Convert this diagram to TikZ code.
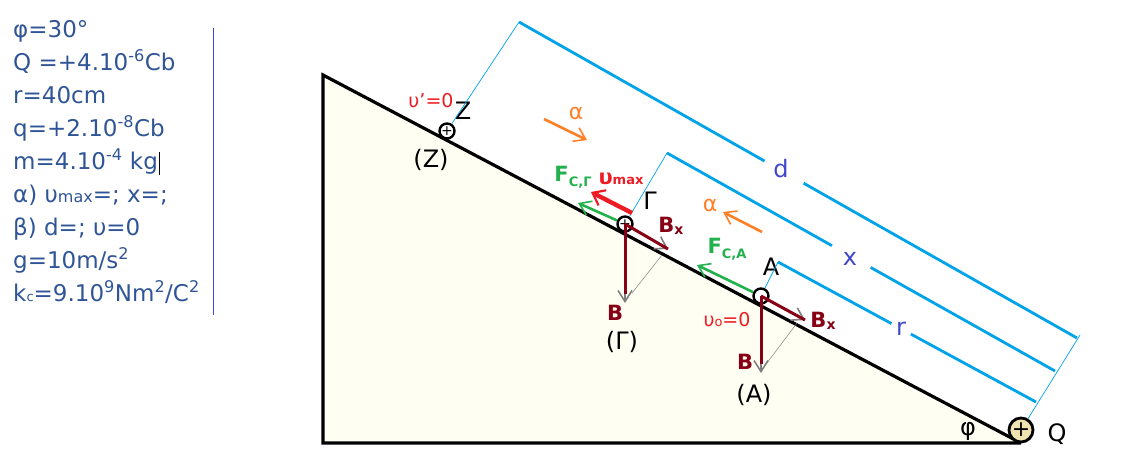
\documentclass[tikz,border=0pt]{standalone}
\usepackage{fontspec}
\usetikzlibrary{arrows.meta,calc}
\setmainfont{DejaVu Sans}
\definecolor{slopefill}{HTML}{FFFEF2}
\definecolor{dimblue}{HTML}{00A2E8}
\definecolor{givenblue}{HTML}{2F5597}
\definecolor{labelblue}{HTML}{3F48CC}
\definecolor{forcegreen}{HTML}{22B14C}
\definecolor{speedred}{HTML}{ED1C24}
\definecolor{weightred}{HTML}{880015}
\definecolor{dirorange}{HTML}{FF7F27}
\definecolor{chargefill}{HTML}{EFE4B0}
\tikzstyle{charge} = [circle, draw, line width=2.4pt, minimum size=15pt, inner sep=0pt, font=\fontsize{14}{14}\selectfont]
\tikzstyle{tag} = [inner sep=0pt, text=black, font=\fontsize{24}{24}\selectfont]
\tikzstyle{force} = [inner sep=0pt, font=\bfseries\fontsize{21}{21}\selectfont]
\tikzstyle{dimline} = [line width=2.8pt, dimblue]
\tikzstyle{guide} = [line width=0.7pt, dimblue]
\tikzstyle{helper} = [line width=0.5pt, gray]
\tikzstyle{opentip} = [-{Straight Barb[length=11pt,width=15pt,line width=1.6pt]}]
\tikzstyle{motion} = [line width=2.6pt, dirorange, opentip]
\tikzstyle{fc} = [line width=2.6pt, forcegreen, opentip]
\tikzstyle{weight} = [line width=3pt, weightred]
\tikzstyle{greytip} = [line width=1.6pt, gray, -{Straight Barb[length=11pt,width=14pt,line width=1.6pt]}]
\begin{document}
\begin{tikzpicture}[x=1pt,y=-1pt]
            \useasboundingbox (0,0) rectangle (1121,474);
            \fill [slopefill] (323,75) -- (1021,443) -- (323,443) -- cycle;
            \draw [line width=3.2pt, black, line join=miter] (1021,443) -- (323,443) -- (323,75) -- (1021,443);
            % given data
            \node (given) [anchor=north west, inner sep=0pt, align=left, text=givenblue, font=\fontsize{23}{33}\selectfont] at (13,20) {
                φ=30°\\
                Q =+4.10\textsuperscript{-6}Cb\\
                r=40cm\\
                q=+2.10\textsuperscript{-8}Cb\\
                m=4.10\textsuperscript{-4} kg\\
                α) υ{\fontsize{16}{16}\selectfont max}=; x=;\\
                β) d=; υ=0\\
                g=10m/s\textsuperscript{2}\\
                k{\fontsize{13}{13}\selectfont c}=9.10\textsuperscript{9}Nm\textsuperscript{2}/C\textsuperscript{2}
            };
            \coordinate (ruleT) at (213,28);
            \coordinate (ruleB) at (213,315);
            \draw [line width=0.9pt, labelblue] (ruleT) -- (ruleB);
            \coordinate (cursorT) at (159,152);
            \coordinate (cursorB) at (159,175);
            \draw [line width=0.7pt, black] (cursorT) -- (cursorB);
            % charges
            \node (Z) [charge] at (447,131) {+};
            \node (G) [charge] at (625,224) {+};
            \node (A) [charge] at (761,296) {};
            \node (Q) [charge, fill=chargefill, minimum size=24pt, line width=2.8pt, font=\fontsize{22}{22}\selectfont] at (1021,430) {+};
            \node (nameZ) [tag] at (463,111) {Ζ};
            \node (nameG) [tag] at (650,201) {Γ};
            \node (nameA) [tag] at (771,267) {Α};
            \node (nameQ) [tag] at (1057,434) {Q};
            \node (posZ) [tag] at (431,160) {(Ζ)};
            \node (posG) [tag] at (622,342) {(Γ)};
            \node (posA) [tag] at (754,395) {(Α)};
            \node (phi) [tag] at (968,431) {φ};
            % dimension lines
            \coordinate (dS) at (519,22);
            \coordinate (dE) at (1077,338);
            \coordinate (xS) at (667,153);
            \coordinate (xE) at (1055,371);
            \coordinate (rS) at (778,262);
            \coordinate (rE) at (1036,402);
            \coordinate (guideQ) at (1080,335);
            \node (d) [text=labelblue, inner sep=0pt, font=\fontsize{24}{24}\selectfont] at (781,169) {d};
            \node (x) [text=labelblue, inner sep=0pt, font=\fontsize{24}{24}\selectfont] at (850,259) {x};
            \node (r) [text=labelblue, inner sep=0pt, font=\fontsize{24}{24}\selectfont] at (901,329) {r};
            \draw [dimline] (dS) -- ($(dS)!0.44!(dE)$);
            \draw [dimline] ($(dS)!0.51!(dE)$) -- (dE);
            \draw [dimline] (xS) -- ($(xS)!0.425!(xE)$);
            \draw [dimline] ($(xS)!0.525!(xE)$) -- (xE);
            \draw [dimline] (rS) -- ($(rS)!0.44!(rE)$);
            \draw [dimline] ($(rS)!0.515!(rE)$) -- (rE);
            \draw [guide] (Z) -- (dS);
            \draw [guide] (G) -- (xS);
            \draw [guide] (A) -- (rS);
            \draw [guide] (Q) -- (guideQ);
            % direction of motion
            \coordinate (dirZs) at (544,119);
            \coordinate (dirZe) at (587,140);
            \coordinate (dirAs) at (762,232);
            \coordinate (dirAe) at (723,212);
            \draw [motion] (dirZs) -- (dirZe);
            \draw [motion] (dirAs) -- (dirAe);
            \node (alphaZ) [inner sep=0pt, text=dirorange, font=\fontsize{22}{22}\selectfont] at (576,113) {α};
            \node (alphaA) [inner sep=0pt, text=dirorange, font=\fontsize{22}{22}\selectfont] at (710,205) {α};
            \node (speedZ) [inner sep=0pt, text=speedred, font=\fontsize{19}{19}\selectfont] at (431,101) {υ'=0};
            \node (speedA) [inner sep=0pt, text=speedred, font=\fontsize{19}{19}\selectfont] at (727,320) {υ{\fontsize{13}{13}\selectfont o}=0};
            % forces at gamma
            \coordinate (fcG) at (578,203);
            \coordinate (umax) at (591,192);
            \coordinate (umaxS) at (632,213);
            \coordinate (bG) at (625,303);
            \coordinate (bxG) at (668,249);
            \coordinate (bGm) at ($(G)!0.88!(bG)$);
            \coordinate (bxGm) at ($(G)!0.72!(bxG)$);
            \coordinate (footG) at (662,255);
            \coordinate (handG) at (632,293);
            \draw [fc] (G) -- (fcG);
            \draw [line width=4.4pt, speedred, -{Straight Barb[length=11pt,width=17pt,line width=2.2pt]}] (umaxS) -- (umax);
            \draw [helper] (footG) -- (handG);
            \draw [greytip] (bGm) -- (bG);
            \draw [greytip] (bxGm) -- (bxG);
            \draw [weight] (G.center) -- (bGm);
            \draw [weight] (G.center) -- (bxG);
            \node (fcGl) [force, text=forcegreen] at (573,177) {F{\fontsize{13}{13}\selectfont\raisebox{-5pt}{C,Γ}}};
            \node (umaxl) [force, text=speedred] at (621,179) {υ{\fontsize{13}{13}\selectfont max}};
            \node (bxGl) [force, text=weightred] at (671,226) {B{\fontsize{14}{14}\selectfont\raisebox{-2pt}{x}}};
            \node (bGl) [force, text=weightred] at (615,313) {B};
            % forces at A
            \coordinate (fcA) at (697,265);
            \coordinate (bA) at (761,373);
            \coordinate (bxA) at (805,320);
            \coordinate (bAm) at ($(A)!0.88!(bA)$);
            \coordinate (bxAm) at ($(A)!0.72!(bxA)$);
            \coordinate (footA) at (797,323);
            \coordinate (handA) at (767,363);
            \draw [fc] (A) -- (fcA);
            \draw [helper] (footA) -- (handA);
            \draw [greytip] (bAm) -- (bA);
            \draw [greytip] (bxAm) -- (bxA);
            \draw [weight] (A.center) -- (bAm);
            \draw [weight] (A.center) -- (bxA);
            \node (fcAl) [force, text=forcegreen] at (727,249) {F{\fontsize{13}{13}\selectfont\raisebox{-5pt}{C,Α}}};
            \node (bxAl) [force, text=weightred] at (823,321) {B{\fontsize{14}{14}\selectfont\raisebox{-2pt}{x}}};
            \node (bAl) [force, text=weightred] at (745,362) {B};
\end{tikzpicture}
\end{document}
